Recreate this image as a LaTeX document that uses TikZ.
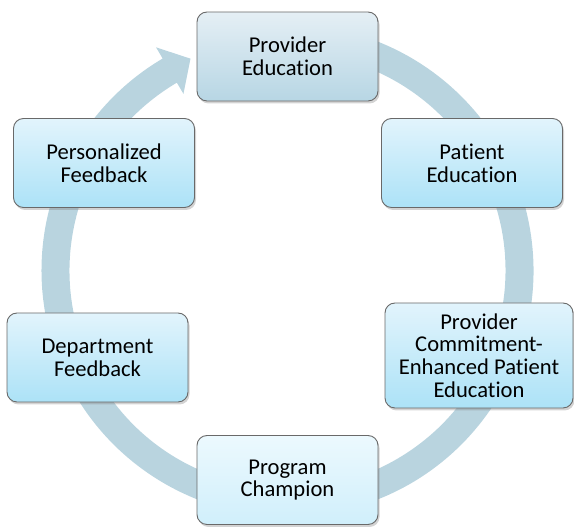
\documentclass[tikz,border=0pt]{standalone}
\usepackage{fontspec}
\setmainfont{Carlito}[Ligatures=NoCommon]
\usetikzlibrary{shadows}
\definecolor{ringblue}{RGB}{185,212,223}
\definecolor{edgegray}{RGB}{105,105,105}
\definecolor{topgray}{RGB}{229,239,245}
\definecolor{botgray}{RGB}{183,214,228}
\definecolor{toplight}{RGB}{226,244,252}
\definecolor{botlight}{RGB}{172,226,247}
\definecolor{toppale}{RGB}{236,249,254}
\definecolor{botpale}{RGB}{208,239,251}
\begin{document}
\begin{tikzpicture}[x=1pt,y=1pt,
  stage/.style={rectangle, rounded corners=10pt, draw=edgegray, line width=0.9pt,
    minimum width=181pt, minimum height=89pt, align=center, inner sep=2pt,
    font=\fontsize{22.6}{22.7}\selectfont, text=black,
    drop shadow={shadow xshift=1.5pt, shadow yshift=-2.5pt, opacity=0.35}}]
\useasboundingbox (0,0) rectangle (574,527);
% cycle arrow behind the boxes
\fill[ringblue, shift={(287.5,256.5)}] (100:246) arc[start angle=100, end angle=-239.5, radius=246]
  -- (-239.5:259) -- (-245.4:233) -- (-239.5:205) -- (-239.5:218)
  arc[start angle=-239.5, end angle=100, radius=218] -- cycle;
\node[stage, top color=topgray, bottom color=botgray] (provedu) at (287.5,470.5) {Provider\\Education};
\node[stage, top color=toplight, bottom color=botlight] (patedu) at (472,364) {Patient\\Education};
\node[stage, top color=toplight, bottom color=botlight, minimum width=188pt, minimum height=105pt] (commit) at (479,171.5) {Provider\\Commitment-\\Enhanced Patient\\Education};
\node[stage, top color=toppale, bottom color=botpale] (champion) at (287.5,47) {Program\\Champion};
\node[stage, top color=toplight, bottom color=botlight] (deptfb) at (97.5,169.5) {Department\\Feedback};
\node[stage, top color=toplight, bottom color=botlight] (persfb) at (104,364) {Personalized\\Feedback};
\end{tikzpicture}
\end{document}
